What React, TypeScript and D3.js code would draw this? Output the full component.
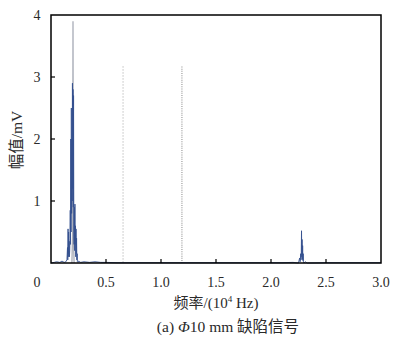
import React from "react";
import * as d3 from "d3";

const blueFreq = [0, 0.03, 0.05, 0.08, 0.1, 0.12, 0.135, 0.145, 0.15, 0.1525, 0.155, 0.1575, 0.16, 0.1625, 0.165, 0.1675, 0.17, 0.1725, 0.175, 0.1775, 0.18, 0.1825, 0.185, 0.1875, 0.19, 0.1925, 0.195, 0.1975, 0.2, 0.2025, 0.205, 0.2075, 0.21, 0.2125, 0.215, 0.2175, 0.22, 0.2225, 0.225, 0.2275, 0.23, 0.2325, 0.235, 0.2375, 0.24, 0.245, 0.25, 0.27, 0.3, 0.35, 0.4, 0.45, 0.5, 0.6, 0.8, 1.0, 1.4, 1.8, 2.1, 2.2, 2.25, 2.26, 2.265, 2.27, 2.2725, 2.275, 2.2775, 2.28, 2.2825, 2.285, 2.2875, 2.29, 2.2925, 2.295, 2.3, 2.31, 2.33, 2.5, 2.8, 3.0];
const blueAmp = [0, 0.01, 0.02, 0.01, 0.03, 0.01, 0.02, 0.05, 0.25, 0.05, 0.55, 0.1, 0.5, 0.15, 0.35, 0.1, 0.2, 0.4, 0.85, 0.3, 2.0, 0.5, 2.5, 0.8, 2.0, 1.0, 2.9, 1.2, 2.8, 0.9, 2.7, 0.5, 0.3, 0.9, 0.2, 0.95, 0.3, 0.6, 0.1, 0.55, 0.15, 0.4, 0.05, 0.15, 0.02, 0.01, 0.03, 0.01, 0.02, 0.01, 0.02, 0.01, 0.01, 0.005, 0.005, 0.005, 0.005, 0.005, 0.005, 0.01, 0.0, 0.08, 0.02, 0.15, 0.05, 0.12, 0.52, 0.1, 0.38, 0.06, 0.28, 0.04, 0.15, 0.02, 0.0, 0.02, 0.0, 0.005, 0.005, 0.005];

const grayFreq = [0.19, 0.197, 0.2, 0.203, 0.21];
const grayAmp = [0, 0.5, 3.9, 0.5, 0];

const dottedFreq = [0.655, 1.19];
const dottedTop = [3.17, 3.17];

const xTicks = [0.5, 1.0, 1.5, 2.0, 2.5];
const xTickLabels = ["0.5", "1.0", "1.5", "2.0", "2.5", "3.0"];
const xLabelVals = [0.5, 1.0, 1.5, 2.0, 2.5, 3.0];
const yTicks = [1, 2, 3];
const yLabelVals = [1, 2, 3, 4];

const W = 406, H = 337;
const L = 51, R = 381, T = 15, B = 263;
const serif = "'Liberation Serif', 'Times New Roman', serif";
const cjk = "'Liberation Serif', 'Noto Sans CJK SC', serif";
const ink = "#2a2a2a";

export default function App() {
  const x = d3.scaleLinear().domain([0, 3]).range([L, R]);
  const y = d3.scaleLinear().domain([0, 4]).range([B, T]);
  const line = d3.line<number>().x((_, i) => x(blueFreq[i])).y((d) => y(d));
  const gline = d3.line<number>().x((_, i) => x(grayFreq[i])).y((d) => y(d));

  return (
    <svg width={W} height={H} style={{ position: "absolute", left: 0, top: 0, background: "#fff" }}>
      <rect x={0} y={0} width={W} height={H} fill="#fff" />
      {dottedFreq.map((f, i) => (
        <line key={i} x1={x(f)} x2={x(f)} y1={y(dottedTop[i])} y2={B}
          stroke={i === 0 ? "#a0a0a0" : "#b4b4b4"} strokeWidth={i === 0 ? 1 : 1.6}
          strokeDasharray={i === 0 ? "1,2" : "1,1.2"} />
      ))}
      <path d={gline(grayAmp) || ""} fill="none" stroke="#a9adb8" strokeWidth={1.3} />
      <path d={line(blueAmp) || ""} fill="none" stroke="#34508f" strokeWidth={0.9} />
      <rect x={L} y={T} width={R - L} height={B - T} fill="none" stroke="#000" strokeWidth={1.5} />
      {xTicks.map((t) => (
        <line key={t} x1={x(t)} x2={x(t)} y1={B} y2={B - 4} stroke="#000" strokeWidth={1.2} />
      ))}
      {yTicks.map((t) => (
        <line key={t} x1={L} x2={L + 4} y1={y(t)} y2={y(t)} stroke="#000" strokeWidth={1.2} />
      ))}
      {xLabelVals.map((v, i) => (
        <text key={v} x={x(v)} y={287} textAnchor="middle" fontFamily={serif} fontSize={14} fill={ink}>{xTickLabels[i]}</text>
      ))}
      <text x={37} y={287} textAnchor="middle" fontFamily={serif} fontSize={14} fill={ink}>0</text>
      {yLabelVals.map((v) => (
        <text key={v} x={37} y={y(v) + 5} textAnchor="middle" fontFamily={serif} fontSize={14} fill={ink}>{v}</text>
      ))}
      <text transform={`translate(22,140) rotate(-90)`} textAnchor="middle" fontFamily={cjk} fontSize={15.5} fill={ink}>幅值/mV</text>
      <text x={216} y={308} textAnchor="middle" fontFamily={cjk} fontSize={15} fill={ink}>
        频率/(10<tspan fontSize={9} dy={-6}>4</tspan><tspan dy={6}> Hz)</tspan>
      </text>
      <text x={228} y={332} textAnchor="middle" fontFamily={cjk} fontSize={15.5} fill={ink}>
        (a) <tspan fontStyle="italic">Φ</tspan>10 mm 缺陷信号
      </text>
    </svg>
  );
}
